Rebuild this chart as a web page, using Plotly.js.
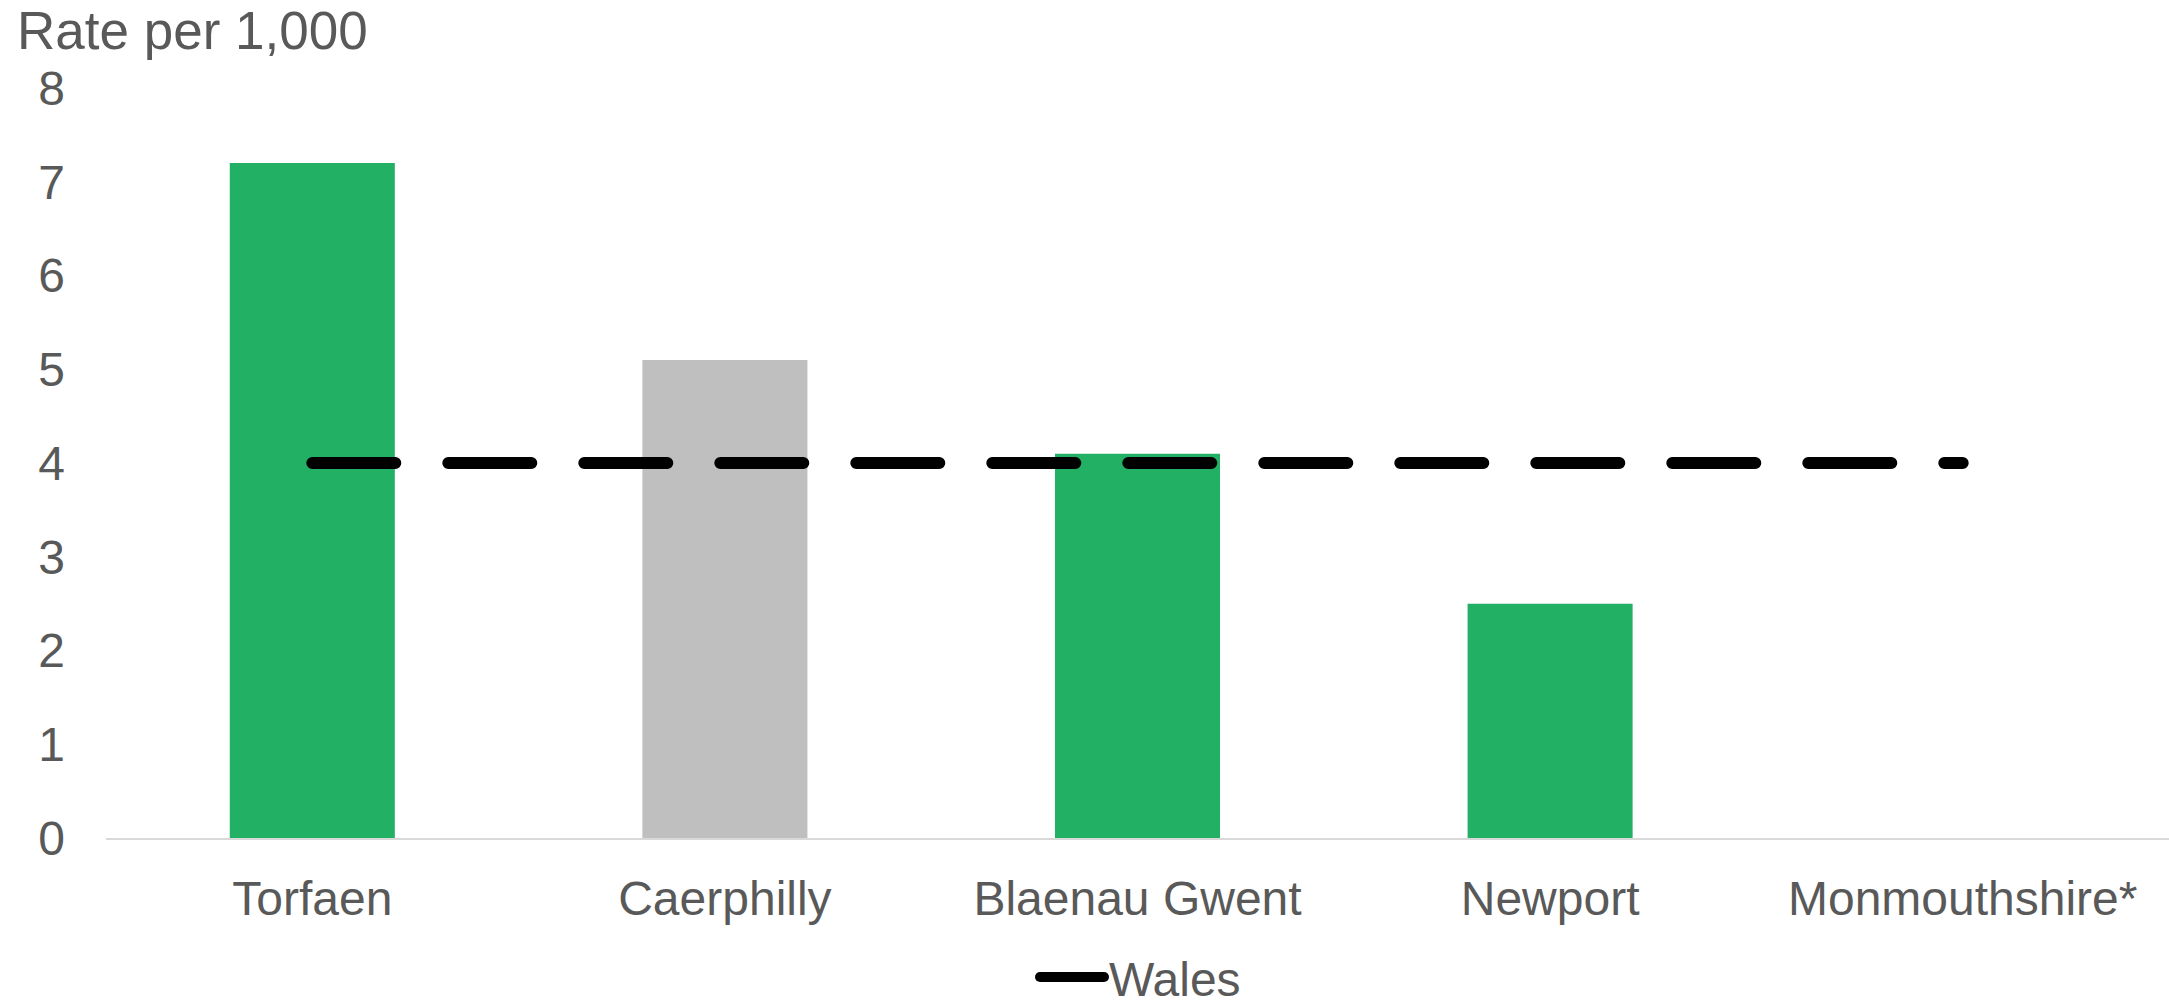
<!DOCTYPE html>
<html>
<head>
<meta charset="utf-8">
<script src="https://cdn.plot.ly/plotly-3.0.1.min.js"></script>
<style>
  html, body { margin: 0; padding: 0; background: #ffffff; }
  #chart { width: 2169px; height: 1004px; }
  .scatterlayer path.js-line { stroke-linecap: round; }
  .legendlines path, g.traces path.js-line { stroke-linecap: round; }
</style>
</head>
<body>
<div id="chart"></div>
<script>
// ---- data ----
var categories = ["Torfaen", "Caerphilly", "Blaenau Gwent", "Newport", "Monmouthshire*"];
var rates = [7.2, 5.1, 4.1, 2.5, null];
var walesRate = [4.0, 4.0, 4.0, 4.0, 4.0];
var yTicks = [0, 1, 2, 3, 4, 5, 6, 7, 8];

// ---- styles ----
var GREEN = "#22B065";
var GREY = "#BFBFBF";
var barColors = [GREEN, GREY, GREEN, GREEN, GREEN];
var TEXT = "#595959";
var FONT = "Liberation Sans, Arial, sans-serif";

var bars = {
  type: "bar",
  x: categories,
  y: rates,
  marker: { color: barColors, line: { width: 0 } },
  width: 0.4,
  showlegend: false,
  hoverinfo: "x+y"
};

var wales = {
  type: "scatter",
  mode: "lines",
  name: "Wales",
  x: categories,
  y: walesRate,
  line: { color: "#000000", width: 12, dash: "83px,53px" },
  showlegend: true
};

var layout = {
  width: 2169,
  height: 1004,
  margin: { l: 106, r: 0, t: 88, b: 166, autoexpand: false },
  paper_bgcolor: "#ffffff",
  plot_bgcolor: "#ffffff",
  font: { family: FONT, size: 48, color: TEXT },
  title: {
    text: "Rate per 1,000",
    font: { family: FONT, size: 53, color: TEXT },
    xref: "container", x: 17 / 2169, xanchor: "left",
    yref: "container", y: 1 - 30 / 1004, yanchor: "middle"
  },
  bargap: 0.6,
  xaxis: {
    type: "category",
    categoryorder: "array",
    categoryarray: categories,
    range: [-0.5, 4.5],
    showgrid: false,
    zeroline: false,
    showline: true,
    linecolor: "#D9D9D9",
    linewidth: 2,
    ticks: "",
    tickangle: 0,
    automargin: false,
    ticklabelstandoff: 17,
    tickfont: { family: FONT, size: 48, color: TEXT },
    fixedrange: true
  },
  yaxis: {
    range: [0, 8],
    tickmode: "array",
    tickvals: yTicks,
    ticktext: yTicks.map(String),
    showgrid: false,
    zeroline: false,
    showline: false,
    ticks: "",
    automargin: false,
    ticklabelstandoff: 40,
    tickfont: { family: FONT, size: 48, color: TEXT },
    fixedrange: true
  },
  showlegend: true,
  legend: {
    orientation: "h",
    itemwidth: 64,
    xref: "container", x: 1035 / 2169, xanchor: "left",
    yref: "paper", y: -0.135, yanchor: "top",
    font: { family: FONT, size: 48, color: TEXT },
    bgcolor: "rgba(0,0,0,0)"
  }
};

Plotly.newPlot("chart", [bars, wales], layout, { displayModeBar: false, staticPlot: true });
</script>
</body>
</html>
